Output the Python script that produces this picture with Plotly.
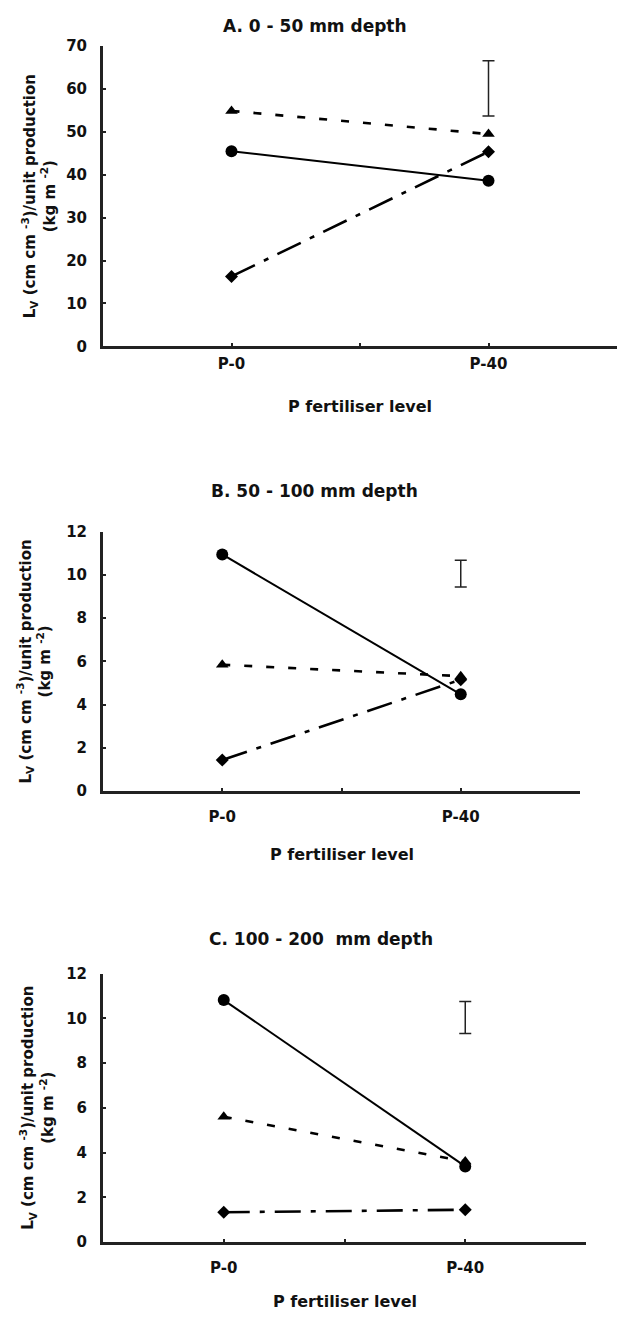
import plotly.graph_objects as go

# P fertiliser treatments on the x axis
levels = ["P-0", "P-40"]

# Root length density per unit production, three soil depths
a_circle = [45.5, 38.6]
a_triangle = [54.9, 49.5]
a_diamond = [16.3, 45.4]
a_lsd = [53.7, 66.6]

b_circle = [10.95, 4.48]
b_triangle = [5.85, 5.32]
b_diamond = [1.44, 5.16]
b_lsd = [9.45, 10.68]

c_circle = [10.82, 3.38]
c_triangle = [5.6, 3.6]
c_diamond = [1.33, 1.44]
c_lsd = [9.32, 10.75]

titles = ["A. 0 - 50 mm depth", "B. 50 - 100 mm depth", "C. 100 - 200  mm depth"]
y_max = [70, 12, 12]
y_step = [10, 2, 2]

W, H = 618, 1321
FONT = "DejaVu Sans, Arial, sans-serif"
INK = "#111"

# panel layout in pixels
boxes = [(103, 617, 37.7, 342), (103, 580, 530, 793), (103, 586, 978, 1250)]
title_xy = [(315, 17), (314, 489), (321, 943)]
xtitle_y = [403, 857, 1310]
ytitle_x = [39, 35, 37]
label_pad = [2, 10, 10]

panels = [
    (a_circle, a_triangle, a_diamond, a_lsd),
    (b_circle, b_triangle, b_diamond, b_lsd),
    (c_circle, c_triangle, c_diamond, c_lsd),
]

xpos = [i + 1 for i in range(len(levels))]

fig = go.Figure()
layout = {}
annotations = []

def px_x(v):
    return v / W

def px_y(v):
    return 1 - v / H

for k, (circ, tri, dia, lsd) in enumerate(panels):
    sfx = "" if k == 0 else str(k + 1)
    xa, ya = "x" + sfx, "y" + sfx
    left, right, top, bottom = boxes[k]

    fig.add_trace(go.Scatter(
        x=xpos, y=tri, xaxis=xa, yaxis=ya, mode="lines+markers",
        line=dict(color="black", width=2.6, dash="8px,14px"),
        marker=dict(symbol="triangle-up", size=11, color="black"),
        showlegend=False))
    fig.add_trace(go.Scatter(
        x=xpos, y=dia, xaxis=xa, yaxis=ya, mode="lines+markers",
        line=dict(color="black", width=2.6, dash="26px,10px,5px,10px"),
        marker=dict(symbol="diamond", size=10, color="black"),
        showlegend=False))
    fig.add_trace(go.Scatter(
        x=xpos, y=circ, xaxis=xa, yaxis=ya, mode="lines+markers",
        line=dict(color="black", width=2),
        marker=dict(symbol="circle", size=12, color="black"),
        showlegend=False))
    # LSD bar at the P-40 position
    fig.add_trace(go.Scatter(
        x=[xpos[-1]], y=[(lsd[0] + lsd[1]) / 2], xaxis=xa, yaxis=ya,
        mode="markers", marker=dict(size=1, color="rgba(0,0,0,0)"),
        error_y=dict(type="data", array=[(lsd[1] - lsd[0]) / 2], visible=True,
                     color="#222", thickness=1.5, width=6),
        showlegend=False))

    layout["xaxis" + sfx] = dict(
        domain=[px_x(left), px_x(right)], anchor=ya,
        range=[0.5, 2.5], tickvals=[1, 1.5, 2], ticktext=[levels[0], "", levels[1]],
        ticks="inside", ticklen=3, tickwidth=2, tickcolor="#222",
        showline=True, linecolor="#222", linewidth=3,
        showgrid=False, zeroline=False, ticklabelstandoff=label_pad[k],
        tickfont=dict(family=FONT, size=15, color=INK, weight="bold"),
    )
    layout["yaxis" + sfx] = dict(
        domain=[px_y(bottom), px_y(top)], anchor=xa,
        range=[0, y_max[k]], dtick=y_step[k],
        ticks="inside", ticklen=3, tickwidth=2, tickcolor="#222",
        showline=True, linecolor="#222", linewidth=3,
        showgrid=False, zeroline=False, ticklabelstandoff=10,
        tickfont=dict(family=FONT, size=15, color=INK, weight="bold"),
    )

    # panel title
    annotations.append(dict(
        text="<b>" + titles[k] + "</b>", xref="paper", yref="paper",
        x=px_x(title_xy[k][0]), y=px_y(title_xy[k][1]),
        xanchor="center", yanchor="middle", showarrow=False,
        font=dict(family=FONT, size=17, color=INK)))
    # x axis title
    annotations.append(dict(
        text="<b>P fertiliser level</b>", xref="paper", yref="paper",
        x=px_x((left + right) / 2), y=px_y(xtitle_y[k]),
        xanchor="center", yanchor="middle", showarrow=False,
        font=dict(family=FONT, size=16, color=INK)))
    # y axis title (two lines, rotated)
    annotations.append(dict(
        text="<b>L<sub>V</sub> (cm cm <sup>-3</sup>)/unit production<br>(kg m <sup>-2</sup>)</b>",
        xref="paper", yref="paper", textangle=-90,
        x=px_x(ytitle_x[k]), y=px_y((top + bottom) / 2),
        xanchor="center", yanchor="middle", showarrow=False,
        font=dict(family=FONT, size=15, color=INK)))

fig.update_layout(
    width=W, height=H, margin=dict(l=0, r=0, t=0, b=0),
    paper_bgcolor="white", plot_bgcolor="white",
    annotations=annotations, **layout)

fig.write_html("out.html")
